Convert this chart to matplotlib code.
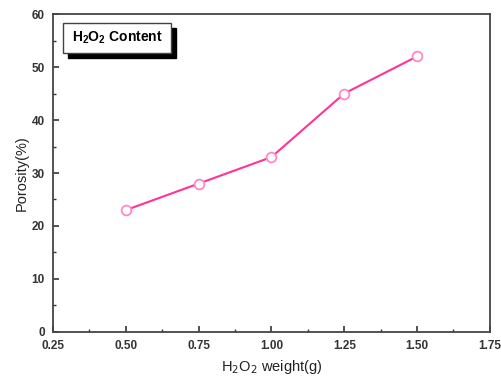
import matplotlib
matplotlib.use("Agg")
import matplotlib.pyplot as plt
from matplotlib.ticker import MultipleLocator, FormatStrFormatter
from matplotlib.patches import Rectangle

weights = [0.50, 0.75, 1.00, 1.25, 1.50]
porosity = [23, 28, 33, 45, 52]

plt.rcParams['font.family'] = ['Liberation Sans', 'DejaVu Sans']

fig = plt.figure(figsize=(5.01, 3.83), dpi=100)
ax = fig.add_axes([0.1058, 0.1332, 0.872, 0.8302])

ax.plot(weights, porosity, color='#ff3399', lw=1.5, zorder=2)
ax.plot(weights, porosity, 'o', ms=7, mfc='white', mec='#ff88c8', mew=1.3, ls='none', zorder=3)

ax.set_xlim(0.25, 1.75)
ax.set_ylim(0, 60)
ax.xaxis.set_major_locator(MultipleLocator(0.25))
ax.xaxis.set_minor_locator(MultipleLocator(0.125))
ax.yaxis.set_major_locator(MultipleLocator(10))
ax.yaxis.set_minor_locator(MultipleLocator(5))
ax.xaxis.set_major_formatter(FormatStrFormatter('%.2f'))
ax.tick_params(which='both', direction='in', top=False, right=False, colors='#333333', labelcolor='#333333')
ax.tick_params(which='major', length=4, width=1.2, labelsize=8.5)
ax.tick_params(axis='x', which='major', pad=6)
ax.tick_params(axis='y', which='major', pad=6)
ax.tick_params(which='minor', length=2, width=1.0)
for lab in ax.get_xticklabels() + ax.get_yticklabels():
    lab.set_fontweight('bold')
for sp in ax.spines.values():
    sp.set_linewidth(1.3)
    sp.set_color('#444444')

ax.set_xlabel('H$_2$O$_2$ weight(g)', fontsize=10.5, color='#222222', labelpad=4)
ax.set_ylabel('Porosity(%)', fontsize=10.5, color='#222222', labelpad=2)

# label box with shadow (in pixel-based figure coords)
W, H = 501, 383
x0, y0, bw, bh = 63, 23, 108, 30
shadow = Rectangle(((x0 + 5) / W, 1 - (y0 + bh + 5) / H), bw / W, bh / H,
                   transform=fig.transFigure, facecolor='black', edgecolor='black', zorder=5)
box = Rectangle((x0 / W, 1 - (y0 + bh) / H), bw / W, bh / H,
                transform=fig.transFigure, facecolor='white', edgecolor='#444444', lw=1.0, zorder=6)
fig.patches.extend([shadow, box])
fig.text((x0 + bw / 2) / W, 1 - (y0 + bh / 2) / H, r'H$_\mathregular{2}$O$_\mathregular{2}$ Content',
         ha='center', va='center', fontsize=10, fontweight='bold', zorder=7)

fig.savefig('out.png', dpi=100)
